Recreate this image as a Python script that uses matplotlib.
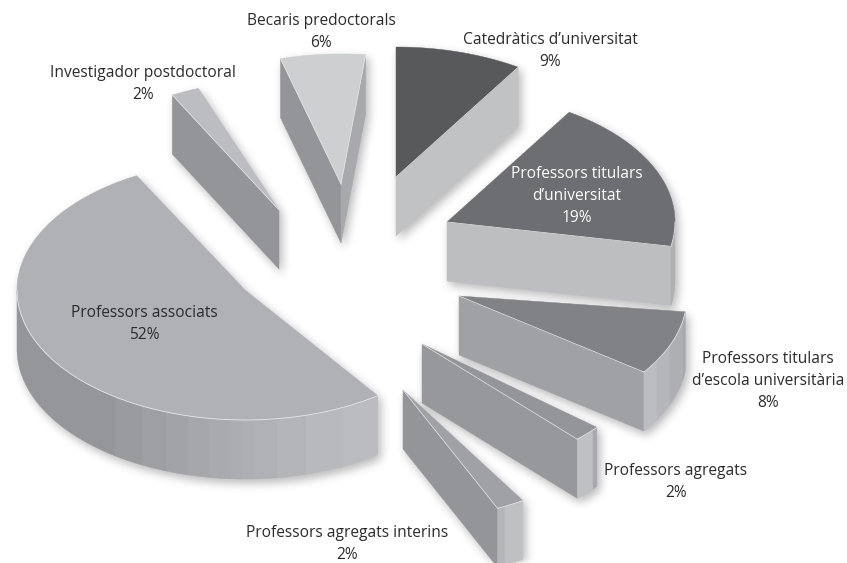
import numpy as np
import matplotlib
matplotlib.use("Agg")
import matplotlib.pyplot as plt
from matplotlib.figure import Figure
from matplotlib.backends.backend_agg import FigureCanvasAgg
from matplotlib.patches import Polygon

# ---- data ----
categories = ["Catedràtics d’universitat", "Professors titulars\nd’universitat",
              "Professors titulars\nd’escola universitària", "Professors agregats",
              "Professors agregats interins", "Professors associats",
              "Investigador postdoctoral", "Becaris predoctorals"]
values = [9, 19, 8, 2, 2, 52, 2, 6]

# ---- layout and style ----
W, H = 847, 563
RX, RY, DEPTH = 228, 130, 59
apex = [(396, 177), (447, 222), (459, 296), (422, 344), (403, 390), (245, 290), (279, 210), (341, 184)]
rotate = [0, 0, -3.8, 0.3, 11.5, 0.4, 0.9, 6.2]
top_col = ["#58595b", "#6d6e71", "#808285", "#939598", "#a0a1a4", "#b0b1b4", "#bcbdc0", "#cdcfd0"]
start_col = [None, None, None, None, None, None, "#939598", "#939598"]
end_col = ["#c1c2c4", "#bdbec0", "#a0a1a4", "#97989b", "#939598", None, None, "#a7a9ac"]
strips = [
    [],
    [(668, "#b0b1b4"), (680, "#b0b1b4")],
    [(657, "#bcbdc0"), (670, "#b5b6b9"), (683, "#aeafb2"), (687, "#a7a8ab")],
    [(593, "#bfc0c2"), (597, "#a7a9ac")],
    [(505, "#b5b6b9"), (523, "#bfc0c2")],
    [(115, "#95969a"), (142, "#9a9b9e"), (166, "#9e9fa2"), (188, "#a2a3a6"), (209, "#a6a7aa"),
     (231, "#a9aaad"), (242, "#acadb0"), (253, "#aeafb2"), (277, "#b0b1b4"), (306, "#b4b5b8"),
     (343, "#b8b9bc"), (378, "#bbbcbf")],
    [], [],
]
text_col = ["#2b2b2d"] * 8
text_col[1] = "#ffffff"
label_xy = [(550, 51), (577, 196), (768, 381), (676, 482), (347, 544), (144, 324), (143, 84), (321, 32)]
FONT = "Open Sans"
FS = 11.2


def pt(a, theta, dz=0):
    t = np.radians(theta)
    return np.array([a[0] + RX * np.sin(t), a[1] - RY * np.cos(t) + dz])


def arc(a, t1, t2, dz=0):
    n = max(2, int(abs(t2 - t1) * 2) + 2)
    return np.array([pt(a, t, dz) for t in np.linspace(t1, t2, n)])


def theta_of_x(x, a):
    return 180 - np.degrees(np.arcsin(np.clip((x - a[0]) / RX, -1, 1)))


# build every polygon from the values
starts = np.cumsum([0] + values[:-1]) * 3.6
polys = []  # (points, colour)
tops = []
for i, v in enumerate(values):
    a = np.array(apex[i], float)
    t1 = starts[i] + rotate[i]
    t2 = t1 + v * 3.6
    down = np.array([0, DEPTH])
    if start_col[i]:
        p = pt(a, t1)
        polys.append((np.array([a, p, p + down, a + down]), start_col[i]))
    if end_col[i]:
        p = pt(a, t2)
        polys.append((np.array([a, p, p + down, a + down]), end_col[i]))
    # curved side, strip by strip, from the low end of the arc
    vis1, vis2 = max(t1, 90), min(t2, 270)
    if vis2 > vis1 and strips[i]:
        hi = vis2
        for x, col in strips[i]:
            lo = np.clip(theta_of_x(x, a), vis1, vis2)
            if hi > lo:
                upper = arc(a, lo, hi)
                lower = arc(a, hi, lo, DEPTH)
                polys.append((np.vstack([upper, lower]), col))
            hi = lo
    tops.append((np.vstack([a[None, :], arc(a, t1, t2)]), top_col[i], arc(a, vis1, vis2) if vis2 > vis1 else None,
                 a, pt(a, t2) if end_col[i] else None, pt(a, t1) if start_col[i] else None))

# soft drop shadow: rasterise silhouette off-screen and blur it
sf = Figure(figsize=(W / 100, H / 100), dpi=100, facecolor="white")
FigureCanvasAgg(sf)
sa = sf.add_axes([0, 0, 1, 1])
sa.set_xlim(0, W); sa.set_ylim(H, 0); sa.axis("off")
for pts, _ in polys:
    sa.add_patch(Polygon(pts + [3, 4], closed=True, fc="k", ec="k", lw=0.5))
for t in tops:
    sa.add_patch(Polygon(t[0] + [3, 4], closed=True, fc="k", ec="k", lw=0.5))
sf.canvas.draw()
mask = 1 - np.asarray(sf.canvas.buffer_rgba())[:, :, 0].astype(float) / 255


def blur(m, r):
    for _ in range(3):
        k = np.ones(2 * r + 1) / (2 * r + 1)
        m = np.apply_along_axis(lambda c: np.convolve(c, k, mode="same"), 0, m)
        m = np.apply_along_axis(lambda c: np.convolve(c, k, mode="same"), 1, m)
    return m


shadow = np.zeros((mask.shape[0], mask.shape[1], 4))
shadow[:, :, 3] = blur(mask, 4) * 0.28

# ---- draw ----
fig = plt.figure(figsize=(W / 100, H / 100), dpi=100)
ax = fig.add_axes([0, 0, 1, 1])
ax.set_xlim(0, W); ax.set_ylim(H, 0); ax.axis("off")
ax.imshow(shadow, extent=(0, W, H, 0), zorder=1, interpolation="nearest", aspect="auto")
ax.set_xlim(0, W); ax.set_ylim(H, 0)
for pts, col in polys:
    ax.add_patch(Polygon(pts, closed=True, fc=col, ec=col, lw=0.3, zorder=2))
for pts, col, edge, a, pe, ps in tops:
    ax.add_patch(Polygon(pts, closed=True, fc=col, ec=col, lw=0.3, zorder=3))
    if edge is not None:
        ax.plot(edge[:, 0], edge[:, 1], color="#e6e7e8", lw=0.6, zorder=4)
    for p in (pe, ps):
        if p is not None:
            ax.plot([a[0], p[0]], [a[1], p[1]], color="#e6e7e8", lw=0.5, zorder=4)

for name, v, (x, y), c in zip(categories, values, label_xy, text_col):
    ax.text(x, y, f"{name}\n{v}%", ha="center", va="center", color=c, family=FONT,
            fontsize=FS, linespacing=1.47, zorder=5)

fig.savefig("out.png", dpi=100)
